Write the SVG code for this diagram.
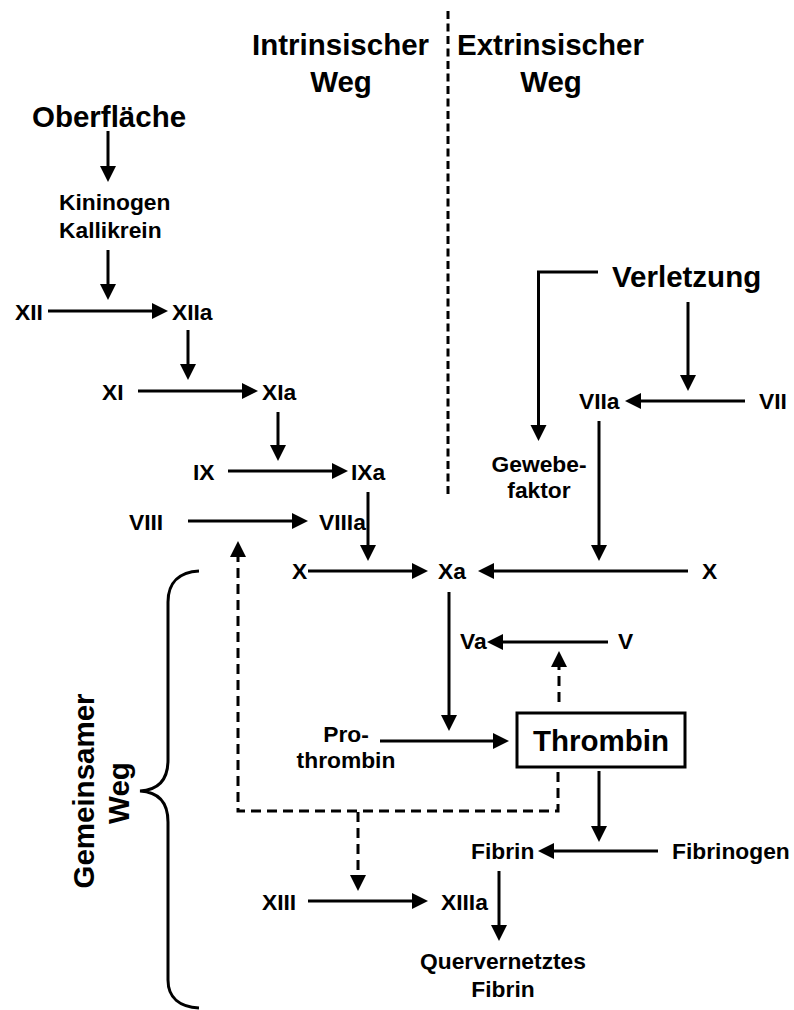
<svg xmlns="http://www.w3.org/2000/svg" width="794" height="1010" viewBox="0 0 794 1010">
<style>
text{font-family:"Liberation Sans",Arial,sans-serif;font-weight:bold;fill:#000}
.s{font-size:22.8px}
.b{font-size:29.5px}
.m{text-anchor:middle}
.c{fill:none;stroke:#000;stroke-width:3}
.a{marker-end:url(#ah)}
.d{stroke-dasharray:10 6}
</style>
<defs>
<marker id="ah" markerUnits="userSpaceOnUse" markerWidth="17" markerHeight="16" refX="3" refY="8" orient="auto" overflow="visible">
<path d="M0,0 L16,8 L0,16 z" fill="#000" stroke="none"/>
</marker>
</defs>
<rect width="794" height="1010" fill="#fff"/>
<g id="divider"><line x1="448" y1="11" x2="448" y2="494" class="c" stroke-dasharray="8 4.5"/></g>
<g id="headers">
<text class="b" x="252" y="55">Intrinsischer</text>
<text class="b m" x="341" y="92">Weg</text>
<text class="b" x="457" y="55">Extrinsischer</text>
<text class="b m" x="551" y="92">Weg</text>
</g>
<g id="connectors">
<line x1="108" y1="131" x2="108" y2="169" class="c a"/>
<line x1="108" y1="250" x2="108" y2="287" class="c a"/>
<line x1="48" y1="311" x2="155" y2="311" class="c a"/>
<line x1="188" y1="330" x2="188" y2="367" class="c a"/>
<line x1="138" y1="391" x2="245" y2="391" class="c a"/>
<line x1="278" y1="412" x2="278" y2="448" class="c a"/>
<line x1="228" y1="471" x2="335" y2="471" class="c a"/>
<line x1="368" y1="492" x2="368" y2="548" class="c a"/>
<line x1="188" y1="521" x2="295" y2="521" class="c a"/>
<line x1="308" y1="571" x2="415" y2="571" class="c a"/>
<line x1="688" y1="571" x2="491" y2="571" class="c a"/>
<line x1="599" y1="421" x2="599" y2="548" class="c a"/>
<line x1="745" y1="401" x2="638" y2="401" class="c a"/>
<line x1="688" y1="302" x2="688" y2="378" class="c a"/>
<path d="M598,272 H538.5 V428" class="c a"/>
<line x1="608" y1="642" x2="500" y2="642" class="c a"/>
<line x1="449" y1="592" x2="449" y2="718" class="c a"/>
<line x1="380" y1="741" x2="496" y2="741" class="c a"/>
<line x1="599" y1="771" x2="599" y2="829" class="c a"/>
<line x1="658" y1="851" x2="551" y2="851" class="c a"/>
<line x1="499" y1="871" x2="499" y2="928" class="c a"/>
<line x1="308" y1="901" x2="415" y2="901" class="c a"/>
<line x1="559" y1="702" x2="559" y2="664" class="c a d"/>
<path d="M558,772 V811 H238 V554" class="c a d"/>
<line x1="358" y1="812" x2="358" y2="878" class="c a d"/>
</g>
<g id="brace"><path d="M199,571 C180,572 168,582 168,602 V760 C168,780 158,790 140,791 C158,792 168,802 168,822 V980 C168,998 180,1007 199,1008" class="c"/></g>
<g id="gemeinsamer">
<text class="b m" transform="translate(94,791) rotate(-90)">Gemeinsamer</text>
<text class="b m" transform="translate(129,793) rotate(-90)">Weg</text>
</g>
<g id="oberflaeche"><text class="b" x="32" y="127">Oberfläche</text></g>
<g id="kininogen"><text class="s" x="59" y="210">Kininogen</text><text class="s" x="59" y="238">Kallikrein</text></g>
<g id="XII"><text class="s" x="15" y="320">XII</text></g>
<g id="XIIa"><text class="s" x="172" y="320">XIIa</text></g>
<g id="XI"><text class="s" x="102" y="400">XI</text></g>
<g id="XIa"><text class="s" x="262" y="400">XIa</text></g>
<g id="IX"><text class="s" x="193" y="480">IX</text></g>
<g id="IXa"><text class="s" x="351" y="480">IXa</text></g>
<g id="VIII"><text class="s" x="129" y="530">VIII</text></g>
<g id="VIIIa"><text class="s" x="319" y="530">VIIIa</text></g>
<g id="X-left"><text class="s" x="292" y="579">X</text></g>
<g id="Xa"><text class="s" x="438" y="579">Xa</text></g>
<g id="X-right"><text class="s" x="702" y="579">X</text></g>
<g id="verletzung"><text class="b" x="612" y="287">Verletzung</text></g>
<g id="VIIa"><text class="s" x="579" y="409">VIIa</text></g>
<g id="VII"><text class="s" x="759" y="409">VII</text></g>
<g id="gewebefaktor"><text class="s m" x="539" y="472">Gewebe-</text><text class="s m" x="539" y="498">faktor</text></g>
<g id="Va"><text class="s" x="460" y="649">Va</text></g>
<g id="V"><text class="s" x="618" y="649">V</text></g>
<g id="prothrombin"><text class="s m" x="346" y="742">Pro-</text><text class="s m" x="346" y="768">thrombin</text></g>
<g id="thrombin"><rect x="517" y="713" width="168" height="54" class="c"/><text class="b m" x="601" y="751">Thrombin</text></g>
<g id="fibrin"><text class="s" x="471" y="859">Fibrin</text></g>
<g id="fibrinogen"><text class="s" x="672" y="859">Fibrinogen</text></g>
<g id="XIII"><text class="s" x="262" y="910">XIII</text></g>
<g id="XIIIa"><text class="s" x="441" y="910">XIIIa</text></g>
<g id="quervernetztes"><text class="s m" x="503" y="969">Quervernetztes</text><text class="s m" x="503" y="997">Fibrin</text></g>
</svg>
